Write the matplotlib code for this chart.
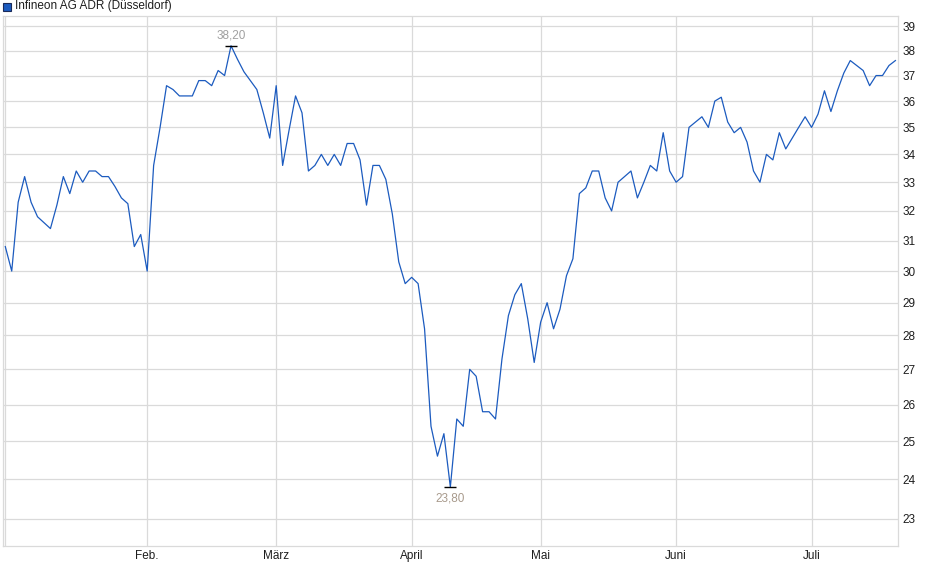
import numpy as np
import matplotlib
matplotlib.use('Agg')
import matplotlib.pyplot as plt
from matplotlib.ticker import FixedLocator, NullLocator, NullFormatter
from matplotlib.patches import Rectangle

plt.rcParams['font.family'] = ['Liberation Sans', 'DejaVu Sans']

######### data (daily closes, Jan - Jul)
Title = 'Infineon AG ADR (Düsseldorf)'

Prices = [30.8, 30.0, 32.3, 33.2, 32.3, 31.8, 31.6, 31.4, 32.2, 33.2,
          32.6, 33.4, 33.0, 33.4, 33.4, 33.2, 33.2, 32.85, 32.45, 32.25,
          30.8, 31.2, 30.0, 33.6, 35.0, 36.6,
          36.45, 36.2, 36.2, 36.2, 36.8, 36.8, 36.6, 37.2, 37.0, 38.2,
          37.65, 37.15, 36.8, 36.45, 35.55, 34.6, 36.6, 33.6, 34.9, 36.2,
          35.55, 33.4, 33.6, 34.0, 33.6,
          34.0, 33.6, 34.4, 34.4, 33.8, 32.2, 33.6, 33.6, 33.1, 31.9,
          30.3, 29.6, 29.8, 29.6, 28.2, 25.4, 24.6, 25.2, 23.8, 25.6,
          25.4, 27.0, 26.8,
          25.8, 25.8, 25.6, 27.3, 28.6, 29.25, 29.6, 28.5, 27.2, 28.4,
          29.0, 28.2, 28.8, 29.85, 30.4, 32.6, 32.8, 33.4, 33.4, 32.45,
          32.0, 33.0, 33.2, 33.4, 32.45,
          33.0, 33.6, 33.4, 34.8, 33.4, 33.0, 33.2, 35.0, 35.2, 35.4,
          35.0, 36.0, 36.15, 35.2, 34.8, 35.0, 34.45, 33.4, 33.0, 34.0,
          33.8, 34.8,
          34.2, 34.6, 35.0, 35.4, 35.0, 35.5, 36.4, 35.6, 36.4, 37.1,
          37.6, 37.4, 37.2, 36.6, 37.0, 37.0, 37.4, 37.6]

# trading-day index of first day of each month
MonthPos = [0, 22, 42, 63, 83, 104, 125]
MonthLabels = ['', 'Feb.', 'März', 'April', 'Mai', 'Juni', 'Juli']
YTicks = list(range(23, 40))

Prices = np.array(Prices)
Days = np.arange(len(Prices))

fig = plt.figure(figsize=(9.4, 5.79), dpi=100)
ax = fig.add_axes([2.7/940, 1-546/579, (898-2.7)/940, (546-16)/579])

gridc = '#dadada'
ax.set_yscale('log')
ax.set_ylim(22.34, 39.44)
ax.set_xlim(-0.4, 138.4)

ax.yaxis.set_major_locator(FixedLocator(YTicks))
ax.yaxis.set_minor_locator(NullLocator())
ax.yaxis.set_minor_formatter(NullFormatter())
ax.set_yticklabels([str(t) for t in YTicks])
ax.yaxis.tick_right()
ax.set_xticks(MonthPos)
ax.set_xticklabels(MonthLabels)
ax.tick_params(axis='both', length=0, labelsize=8.5, colors='#1e1e1e')
ax.tick_params(axis='y', pad=3.5)
ax.tick_params(axis='x', pad=3)

ax.grid(True, color=gridc, lw=0.9)
ax.set_axisbelow(True)
for s in ax.spines.values():
    s.set_color(gridc)
    s.set_linewidth(0.9)

ax.plot(Days, Prices, color='#1c5bbf', lw=0.9)

imax = int(np.argmax(Prices))
imin = int(np.argmin(Prices))
ax.plot([imax], [Prices[imax]], marker='_', ms=8, mew=1.0, color='black')
ax.plot([imin], [Prices[imin]], marker='_', ms=8, mew=1.0, color='black')
ax.annotate(f'{Prices[imax]:.2f}'.replace('.', ','), (imax, Prices[imax]),
            xytext=(0, 3), textcoords='offset points', ha='center', va='bottom',
            fontsize=8.5, color='#a0a0a0')
ax.annotate(f'{Prices[imin]:.2f}'.replace('.', ','), (imin, Prices[imin]),
            xytext=(0, -4), textcoords='offset points', ha='center', va='top',
            fontsize=8.5, color='#a89a8c')

# legend box top left
fig.patches.append(Rectangle((3/940, 1-11/579), 8/940, 8/579, transform=fig.transFigure,
                             facecolor='#1c5bbf', edgecolor='#1a2a5a', lw=0.8))
fig.text(15/940, 1-6.5/579, Title, fontsize=8.5, color='#1e1e1e', va='center', ha='left')

fig.savefig('out.png', dpi=100)
